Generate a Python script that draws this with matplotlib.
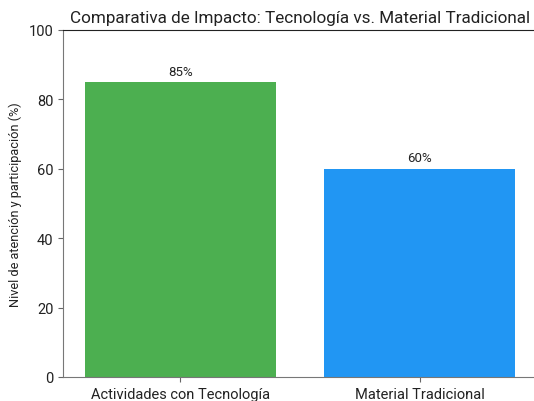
import matplotlib
matplotlib.use("Agg")
import matplotlib.pyplot as plt

categories = ["Actividades con Tecnología", "Material Tradicional"]
values = [85, 60]
colors = ["#4CAF50", "#2196F3"]

plt.rcParams['font.family'] = ['Roboto', 'DejaVu Sans']

fig = plt.figure(figsize=(5.34, 4.02), dpi=100)
ax = fig.add_axes([63/534, 1-378/402, (537-63)/534, (378-31)/402])
bars = ax.bar(categories, values, color=colors, width=0.8)
for b, v in zip(bars, values):
    ax.text(b.get_x() + b.get_width()/2, v + 1.3, f"{v}%", ha="center", va="bottom", fontsize=9.5, color="#222222")
ax.set_ylim(0, 100)
ax.set_title("Comparativa de Impacto: Tecnología vs. Material Tradicional", fontsize=12.3, color="#222222", pad=6)
ax.set_ylabel("Nivel de atención y participación (%)", fontsize=9.2, color="#222222", labelpad=5)
ax.tick_params(axis='both', labelsize=10.5, colors="#222222")
ax.tick_params(axis='both', color="#666666")
ax.spines['right'].set_visible(False)
ax.spines['left'].set_color("#777777")
ax.spines['bottom'].set_color("#777777")
ax.spines['top'].set_color("#222222")
fig.savefig("out.png", dpi=100)
